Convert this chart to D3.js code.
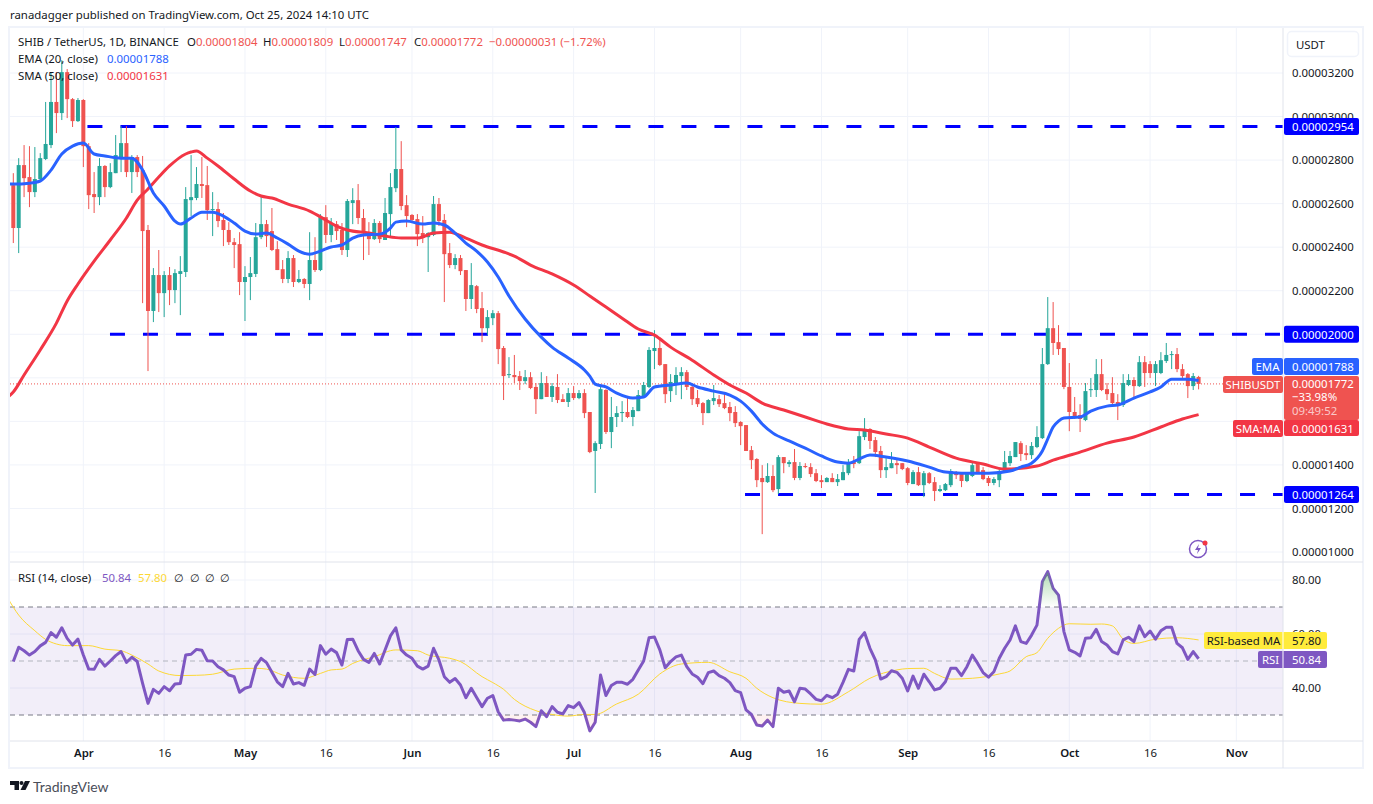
<!DOCTYPE html>
<html>
<head>
<meta charset="utf-8">
<style>
  html, body { margin: 0; background: #fff; }
  svg { display: block; }
  text { font-family: "Noto Sans", sans-serif; font-size: 11.4px; fill: #131722; }
</style>
<script src="https://cdn.jsdelivr.net/npm/d3@7"></script>
</head>
<body>
<div id="wrapper"></div>
<script>
// 1. Data, prices are in units of 0.00000001
const priceUnit = 1e-8;

const opens = [
  2685,2488,2777,2722,2653,2713,2805,2869,3067,3016,
  3204,3080,2979,3076,2864,2644,2630,2773,2676,2740,
  2814,2878,2745,2814,2754,2479,2107,2272,2189,2272,
  2203,2277,2286,2616,2626,2690,2685,2570,2575,2525,
  2479,2423,2414,2240,2263,2277,2446,2506,2474,2391,
  2299,2254,2350,2240,2254,2231,2341,2295,2538,2456,
  2506,2479,2387,2603,2616,2534,2465,2437,2511,2433,
  2552,2671,2759,2593,2548,2529,2465,2446,2456,2598,
  2525,2373,2318,2350,2295,2162,2221,2120,2028,2074,
  2097,1937,1813,1813,1808,1785,1803,1758,1702,1776,
  1712,1758,1702,1689,1730,1707,1730,1643,1464,1496,
  1744,1551,1620,1638,1643,1620,1647,1712,1758,1923,
  1937,1863,1739,1776,1808,1826,1758,1707,1684,1638,
  1693,1702,1684,1666,1643,1597,1583,1468,1427,1340,
  1321,1349,1289,1436,1404,1413,1340,1395,1390,1362,
  1330,1321,1340,1321,1330,1362,1413,1408,1528,1565,
  1514,1464,1376,1385,1408,1408,1385,1312,1367,1307,
  1362,1321,1280,1284,1307,1362,1358,1326,1349,1408,
  1376,1340,1317,1330,1367,1408,1436,1500,1454,1445,
  1482,1523,1863,2028,1964,1937,1758,1643,1629,1606,
  1744,1744,1817,1748,1730,1689,1675,1767,1790,1762,
  1872,1863,1822,1822,1877,1905,1909,1840,1817,1762,
  1804
];
const highs = [
  2740,2809,2869,2864,2860,2832,3067,3204,3204,3259,
  3218,3085,3085,3080,2878,2745,2809,2777,2786,2915,
  2956,2956,2823,2823,2819,2502,2304,2387,2290,2309,
  2299,2359,2676,2823,2768,2814,2773,2653,2607,2557,
  2515,2442,2469,2313,2355,2511,2635,2525,2580,2428,
  2341,2382,2364,2295,2258,2469,2446,2552,2593,2534,
  2520,2511,2621,2671,2690,2575,2515,2529,2520,2626,
  2740,2952,2887,2639,2552,2552,2543,2469,2635,2626,
  2552,2419,2368,2364,2295,2327,2226,2194,2111,2111,
  2107,1946,1895,1905,1831,1836,1826,1776,1826,1808,
  1776,1817,1725,1753,1762,1744,1748,1643,1509,1762,
  1748,1712,1670,1693,1707,1666,1744,1781,1941,2019,
  1987,1863,1817,1849,1849,1836,1776,1744,1689,1702,
  1767,1721,1735,1689,1670,1601,1583,1487,1431,1399,
  1408,1399,1445,1436,1422,1473,1413,1408,1408,1381,
  1353,1344,1362,1358,1399,1427,1441,1555,1615,1569,
  1528,1487,1431,1459,1431,1408,1390,1376,1390,1372,
  1367,1344,1307,1317,1381,1372,1362,1362,1418,1408,
  1390,1349,1344,1381,1464,1464,1505,1509,1491,1505,
  1578,1937,2171,2148,2042,1937,1868,1712,1679,1776,
  1799,1886,1886,1776,1803,1725,1817,1817,1803,1900,
  1900,1877,1877,1918,1960,1923,1937,1863,1822,1822,
  1809
];
const lows = [
  2419,2373,2630,2584,2630,2708,2800,2855,2924,2984,
  2993,2952,2975,2768,2575,2557,2593,2630,2671,2740,
  2745,2722,2649,2722,2143,1831,2056,2102,2079,2134,
  2143,2088,2263,2543,2616,2626,2525,2451,2492,2405,
  2410,2304,2180,2061,2157,2263,2437,2401,2382,2295,
  2235,2235,2217,2235,2212,2157,2286,2290,2419,2423,
  2433,2364,2355,2506,2506,2341,2364,2433,2419,2433,
  2446,2653,2570,2492,2515,2405,2419,2286,2451,2497,
  2148,2304,2299,2272,2107,2116,2097,1964,1996,2042,
  1863,1698,1799,1776,1744,1771,1748,1634,1702,1712,
  1689,1684,1689,1666,1698,1702,1615,1454,1271,1473,
  1542,1477,1574,1597,1615,1578,1647,1712,1753,1840,
  1854,1684,1689,1721,1702,1744,1675,1666,1583,1638,
  1675,1666,1656,1601,1574,1491,1464,1381,1298,1082,
  1317,1275,1266,1362,1390,1330,1330,1385,1344,1321,
  1294,1321,1321,1303,1330,1353,1385,1404,1514,1473,
  1436,1340,1340,1385,1358,1376,1307,1312,1303,1252,
  1312,1234,1275,1280,1298,1335,1298,1321,1344,1362,
  1330,1303,1307,1298,1367,1395,1436,1418,1422,1427,
  1477,1519,1859,1905,1905,1748,1555,1611,1551,1601,
  1712,1712,1739,1698,1670,1606,1666,1762,1712,1758,
  1758,1799,1762,1817,1868,1840,1826,1799,1707,1744,
  1747
];
const closes = [
  2488,2777,2717,2653,2713,2809,2874,3067,3016,3204,
  3080,2979,3076,2864,2639,2630,2773,2676,2745,2823,
  2878,2745,2814,2745,2474,2107,2272,2189,2272,2203,
  2281,2290,2621,2630,2690,2681,2570,2575,2520,2479,
  2423,2410,2240,2263,2281,2446,2506,2451,2387,2295,
  2254,2350,2240,2254,2231,2341,2295,2538,2456,2511,
  2474,2387,2612,2616,2534,2465,2437,2511,2437,2557,
  2676,2759,2589,2543,2525,2460,2442,2465,2598,2520,
  2368,2318,2350,2290,2162,2226,2116,2028,2079,2097,
  1932,1808,1817,1803,1785,1803,1753,1702,1776,1712,
  1762,1698,1689,1730,1707,1730,1638,1459,1500,1748,
  1551,1620,1638,1643,1620,1652,1721,1767,1928,1937,
  1859,1725,1781,1813,1826,1758,1702,1679,1638,1698,
  1707,1679,1661,1638,1592,1578,1464,1422,1330,1321,
  1349,1284,1436,1408,1413,1340,1395,1390,1358,1326,
  1321,1340,1321,1335,1367,1408,1404,1532,1565,1510,
  1459,1376,1390,1408,1399,1381,1317,1367,1307,1362,
  1317,1280,1289,1312,1372,1353,1326,1358,1399,1362,
  1335,1317,1335,1372,1413,1441,1505,1450,1445,1487,
  1528,1863,2028,1960,1932,1758,1643,1624,1611,1739,
  1748,1817,1744,1725,1684,1675,1776,1790,1762,1872,
  1822,1822,1863,1881,1905,1909,1840,1808,1762,1808,
  1772
];

// moving averages at the turning points
const emaDays = [-1,0,3,5,7,9,11,13,15,17,20,22,24,26,28,30,31,33,35,37,39,41,43,45,47,49,51,53,55,57,59,61,63,65,68,70,71,73,76,78,80,82,84,86,88,90,92,95,98,100,103,106,107,108,110,112,115,117,119,122,125,127,130,133,135,137,139,141,144,147,150,153,155,157,159,162,166,170,173,176,181,185,187,189,191,192,193,194,195,198,200,203,205,208,211,213,215,218,220];
const emaValues = [2690,2690,2694,2704,2754,2828,2864,2878,2828,2819,2809,2809,2754,2649,2589,2520,2506,2534,2561,2561,2543,2511,2474,2460,2465,2442,2414,2382,2368,2382,2401,2410,2442,2456,2460,2488,2515,2520,2506,2511,2502,2465,2419,2382,2332,2263,2176,2070,1987,1941,1891,1836,1808,1771,1758,1730,1707,1712,1758,1767,1776,1758,1739,1721,1693,1647,1588,1546,1510,1477,1441,1413,1408,1427,1445,1436,1418,1390,1367,1362,1362,1372,1390,1408,1464,1519,1574,1601,1615,1620,1647,1670,1675,1707,1735,1758,1794,1794,1788];

const smaDays = [-1,0,2,5,8,10,12,15,18,21,23,25,27,29,32,33,34,36,38,41,44,46,48,51,55,58,60,62,66,69,72,75,78,81,84,87,91,93,96,100,104,107,110,113,116,119,122,126,130,133,136,139,143,147,151,155,158,162,166,170,175,180,184,190,193,198,203,208,213,217,220];
const smaValues = [1712,1735,1813,1928,2051,2153,2231,2336,2433,2534,2616,2667,2722,2773,2828,2837,2842,2809,2773,2713,2658,2635,2626,2598,2566,2525,2497,2479,2465,2451,2442,2442,2465,2469,2442,2410,2378,2359,2318,2277,2226,2176,2125,2074,2024,1996,1941,1881,1813,1767,1730,1684,1652,1620,1588,1565,1560,1542,1523,1482,1431,1404,1381,1395,1422,1459,1500,1528,1574,1611,1631];

const rsiValues = [
  49.8,55.1,53.8,52.2,53.5,55.6,56.9,60.5,58.8,62.3,
  58.4,55.9,58.1,52.2,47.0,46.9,50.6,48.1,50.0,52.0,
  53.5,49.5,51.4,49.8,41.7,34.3,39.5,38.0,40.5,39.0,
  41.5,41.7,52.2,52.5,54.3,54.0,50.1,50.0,47.9,46.7,
  44.8,44.2,38.4,39.9,40.5,48.1,51.0,49.4,45.8,42.3,
  40.5,45.4,41.5,42.0,41.0,47.0,45.0,55.7,52.5,54.4,
  53.1,48.5,58.0,58.1,53.8,50.6,49.5,52.8,48.9,54.1,
  59.3,62.3,54.1,52.2,51.0,48.1,47.0,48.1,54.7,50.4,
  44.2,42.1,43.5,41.1,36.4,39.9,36.5,33.1,36.2,37.2,
  31.2,28.1,28.3,28.1,27.8,28.5,27.3,25.7,31.6,29.4,
  33.1,31.0,30.4,33.5,32.7,34.6,30.9,24.1,27.3,44.8,
  37.2,40.9,42.1,42.1,41.4,43.2,46.7,50.0,58.6,58.9,
  54.1,47.5,49.8,51.5,52.2,47.9,45.2,44.0,41.6,45.7,
  46.3,44.6,43.6,42.0,39.0,38.3,31.9,30.2,26.3,25.9,
  28.1,25.7,39.9,38.4,38.9,34.9,39.9,39.6,37.8,35.8,
  35.3,37.3,36.4,37.7,42.1,46.9,46.3,58.0,60.5,54.7,
  50.4,43.3,44.2,46.4,45.8,43.6,38.9,44.4,39.9,45.1,
  42.3,39.3,39.9,42.3,47.3,47.3,44.6,47.9,52.2,49.1,
  45.7,44.0,46.0,51.0,54.7,57.8,63.0,57.2,56.5,59.6,
  63.3,79.4,83.1,76.9,74.4,60.9,54.1,53.2,51.9,58.4,
  58.6,61.7,57.2,55.9,53.5,52.6,57.8,58.8,57.2,63.0,
  59.0,61.1,58.1,61.2,62.5,62.5,56.5,54.9,50.6,53.5,
  50.84
];
const rsiMaDays = [-1,1,4,6,8,10,14,17,20,22,25,27,31,34,37,41,45,47,50,54,57,59,61,63,67,71,75,77,81,83,87,89,91,93,97,100,103,106,108,112,116,120,124,129,133,136,138,141,146,150,155,159,164,166,169,171,174,178,183,185,188,190,192,194,196,200,202,204,206,208,212,216,220];
const rsiMaValues = [73.2,67,61.2,58,56.3,55.7,55.7,54.4,53.8,52.2,48.9,46.3,44.6,44.7,45.1,47,47.3,47,44.8,43.6,45.4,46.7,47,49.1,51.6,54.1,53.8,52.2,51,49.8,44.2,42,39.5,35.8,31.6,30.2,29.6,30.2,30.2,34.1,37.7,45.2,48.9,49.5,46,43.6,39.9,36.4,34.3,34,38.6,43.6,46.7,47.2,47.3,45.4,43.3,43.6,45.2,46.3,51.6,53.1,58.4,62.1,63.8,63.6,63.7,63,58.1,56.5,58.1,58.6,57.8];

// drawn horizontal levels
const levelPrices = [2954, 2000, 1264];
const levelStartDays = [14, 18, 136];

const gridPrices = [1000,1200,1400,1600,1800,2000,2200,2400,2600,2800,3000,3200];
// 1600, 1800 and 2000 sit fully behind the label boxes
const priceTicks = [1000,1200,1400,2200,2400,2600,2800,3000,3200];
const rsiTicks = [40, 60, 80];
const timeTickDays = [13,28,43,58,74,89,104,119,135,150,166,181,196,211,227];
const timeTickLabels = ["Apr","16","May","16","Jun","16","Jul","16","Aug","16","Sep","16","Oct","16","Nov"];

const lastOpen = 1804, lastHigh = 1809, lastLow = 1747, lastClose = 1772, lastEma = 1788, lastSma = 1631;
const lastRsi = 50.84, lastRsiMa = 57.80;

// 2. Dimensions
const dims = { width: 1373, height: 804, left: 10, right: 1283, outer: 1363, top: 28, split: 562, bottom: 741, foot: 768 };
const colors = {
  up: "#26a69a", down: "#ef5350", ema: "#2962ff", sma: "#f23645", level: "#0000ff",
  rsi: "#7e57c2", rsiMa: "#fdd835", grid: "#f0f3fa", border: "#e0e3eb", text: "#131722"
};

const priceText = (v) => (v * priceUnit).toFixed(8);

// 3. Canvas
const svg = d3.select("#wrapper").append("svg").attr("width", dims.width).attr("height", dims.height);
const defs = svg.append("defs");

defs.append("clipPath").attr("id", "mainClip").append("rect")
  .attr("x", dims.left).attr("y", dims.top).attr("width", dims.right - dims.left).attr("height", dims.split - dims.top);
defs.append("clipPath").attr("id", "rsiClip").append("rect")
  .attr("x", dims.left).attr("y", dims.split).attr("width", dims.right - dims.left).attr("height", dims.bottom - dims.split);

// 4. Scales
const xScale = d3.scaleLinear().domain([0, 220]).range([13.3, 1198.6]);
const yPrice = d3.scaleLinear().domain([1000, 3200]).range([552, 73]);
const yRsi = d3.scaleLinear().domain([30, 70]).range([715, 607]);

// 5. Grid
const grid = svg.append("g").attr("stroke", colors.grid).attr("stroke-width", 1);
grid.selectAll(".vgrid").data(timeTickDays).join("line")
  .attr("x1", (d) => xScale(d)).attr("x2", (d) => xScale(d))
  .attr("y1", dims.top).attr("y2", dims.bottom);
grid.selectAll(".hgrid").data(gridPrices).join("line")
  .attr("x1", dims.left).attr("x2", dims.right)
  .attr("y1", (d) => yPrice(d)).attr("y2", (d) => yPrice(d));
grid.selectAll(".rgrid").data(rsiTicks).join("line")
  .attr("x1", dims.left).attr("x2", dims.right)
  .attr("y1", (d) => yRsi(d)).attr("y2", (d) => yRsi(d));

// 6. Price pane
const main = svg.append("g").attr("clip-path", "url(#mainClip)");

main.append("line")
  .attr("x1", dims.left).attr("x2", dims.right)
  .attr("y1", yPrice(lastClose)).attr("y2", yPrice(lastClose))
  .attr("stroke", colors.down).attr("stroke-dasharray", "1 2");

main.selectAll(".level").data(levelPrices).join("line")
  .attr("class", "level")
  .attr("x1", (d, i) => xScale(levelStartDays[i]) - (i == 0 ? 1.3 : i == 1 ? 0.3 : 1))
  .attr("x2", dims.right)
  .attr("y1", (d) => yPrice(d)).attr("y2", (d) => yPrice(d))
  .attr("stroke", colors.level).attr("stroke-width", 3).attr("stroke-dasharray", "15 18");

const candles = main.selectAll(".candle").data(closes).join("g").attr("class", "candle")
  .attr("fill", (d, i) => (d >= opens[i] ? colors.up : colors.down));
candles.append("rect")
  .attr("x", (d, i) => xScale(i) - 0.5).attr("width", 1)
  .attr("y", (d, i) => yPrice(highs[i]))
  .attr("height", (d, i) => yPrice(lows[i]) - yPrice(highs[i]));
candles.append("rect")
  .attr("x", (d, i) => xScale(i) - 2).attr("width", 4)
  .attr("y", (d, i) => yPrice(Math.max(opens[i], d)))
  .attr("height", (d, i) => Math.max(1, Math.abs(yPrice(opens[i]) - yPrice(d))));

const priceLine = (days) => d3.line().x((d, i) => xScale(days[i])).y((d) => yPrice(d)).curve(d3.curveMonotoneX);
main.append("path").attr("d", priceLine(smaDays)(smaValues))
  .attr("fill", "none").attr("stroke", colors.sma).attr("stroke-width", 3).attr("stroke-linejoin", "round");
main.append("path").attr("d", priceLine(emaDays)(emaValues))
  .attr("fill", "none").attr("stroke", colors.ema).attr("stroke-width", 3).attr("stroke-linejoin", "round");

// 7. RSI pane
const rsiPane = svg.append("g").attr("clip-path", "url(#rsiClip)");
rsiPane.append("rect")
  .attr("x", dims.left).attr("width", dims.right - dims.left)
  .attr("y", yRsi(70)).attr("height", yRsi(30) - yRsi(70))
  .attr("fill", colors.rsi).attr("fill-opacity", 0.1);

[[70, "#787b86"], [50, "#b2b5be"], [30, "#787b86"]].forEach(([v, c]) => {
  rsiPane.append("line")
    .attr("x1", dims.left).attr("x2", dims.right)
    .attr("y1", yRsi(v)).attr("y2", yRsi(v))
    .attr("stroke", c).attr("stroke-dasharray", "5 4");
});

const obGradient = defs.append("linearGradient").attr("id", "obFill")
  .attr("gradientUnits", "userSpaceOnUse").attr("x1", 0).attr("x2", 0)
  .attr("y1", yRsi(85)).attr("y2", yRsi(70));
obGradient.append("stop").attr("offset", 0).attr("stop-color", "#4caf50").attr("stop-opacity", 0.5);
obGradient.append("stop").attr("offset", 1).attr("stop-color", "#4caf50").attr("stop-opacity", 0);
defs.append("clipPath").attr("id", "obClip").append("rect")
  .attr("x", dims.left).attr("y", dims.split).attr("width", dims.right - dims.left).attr("height", yRsi(70) - dims.split);
defs.append("clipPath").attr("id", "osClip").append("rect")
  .attr("x", dims.left).attr("y", yRsi(30)).attr("width", dims.right - dims.left).attr("height", dims.bottom - yRsi(30));

const rsiAt = (i) => xScale(i);
svg.append("path").attr("clip-path", "url(#obClip)")
  .attr("d", d3.area().x((d, i) => rsiAt(i)).y0(yRsi(70)).y1((d) => yRsi(d))(rsiValues))
  .attr("fill", "url(#obFill)");
svg.append("path").attr("clip-path", "url(#osClip)")
  .attr("d", d3.area().x((d, i) => rsiAt(i)).y0(yRsi(30)).y1((d) => yRsi(d))(rsiValues))
  .attr("fill", colors.down).attr("fill-opacity", 0.08);

rsiPane.append("path")
  .attr("d", d3.line().x((d, i) => xScale(rsiMaDays[i])).y((d) => yRsi(d)).curve(d3.curveMonotoneX)(rsiMaValues))
  .attr("fill", "none").attr("stroke", colors.rsiMa).attr("stroke-width", 1);
rsiPane.append("path")
  .attr("d", d3.line().x((d, i) => xScale(i)).y((d) => yRsi(d))(rsiValues))
  .attr("fill", "none").attr("stroke", colors.rsi).attr("stroke-width", 3).attr("stroke-linejoin", "round");

// 8. Frame
const frame = svg.append("g").attr("fill", "none");
frame.append("rect")
  .attr("x", dims.left - 1).attr("y", dims.top - 1)
  .attr("width", dims.outer - dims.left + 1).attr("height", dims.foot - dims.top + 1)
  .attr("stroke", colors.grid).attr("stroke-width", 2);
[[dims.right, dims.top, dims.right, dims.foot], [dims.left, dims.split, dims.outer, dims.split], [dims.left, dims.bottom, dims.outer, dims.bottom]]
  .forEach(([x1, y1, x2, y2]) => {
    frame.append("line").attr("x1", x1).attr("y1", y1).attr("x2", x2).attr("y2", y2).attr("stroke", colors.border);
  });

// 9. Axes
const priceAxis = svg.append("g").attr("transform", `translate(${dims.right},0)`)
  .call(d3.axisRight(yPrice).tickValues(priceTicks).tickFormat(priceText).tickSize(0).tickPadding(9));
const rsiAxis = svg.append("g").attr("transform", `translate(${dims.right},0)`)
  .call(d3.axisRight(yRsi).tickValues(rsiTicks).tickFormat((d) => d.toFixed(2)).tickSize(0).tickPadding(9));
const timeAxis = svg.append("g").attr("transform", `translate(0,${dims.bottom})`)
  .call(d3.axisBottom(xScale).tickValues(timeTickDays).tickFormat((d, i) => timeTickLabels[i]).tickSize(0).tickPadding(8));
[priceAxis, rsiAxis, timeAxis].forEach((a) => {
  a.select(".domain").remove();
  a.attr("font-family", null).attr("font-size", null);
});
timeAxis.selectAll("text").style("font-weight", (d, i) => (timeTickLabels[i] == "16" ? 400 : 600));

// 10. Label boxes on the price scale
function axisLabel(y, h, text, fill, textFill) {
  svg.append("rect").attr("x", dims.right + 1).attr("y", y).attr("width", 75).attr("height", h).attr("rx", 2).attr("fill", fill);
  svg.append("text").attr("x", dims.right + 9).attr("y", y + 13).style("fill", textFill).text(text);
}
function sideLabel(x, y, text, fill, textFill) {
  svg.append("rect").attr("x", x).attr("y", y).attr("width", dims.right - x).attr("height", 17).attr("rx", 2).attr("fill", fill);
  svg.append("text").attr("x", (x + dims.right) / 2).attr("y", y + 13).attr("text-anchor", "middle").style("fill", textFill).text(text);
}
levelPrices.forEach((p) => axisLabel(yPrice(p) - 8.5, 17, priceText(p), colors.level, "#fff"));

axisLabel(358, 17, priceText(lastEma), colors.ema, "#fff");
sideLabel(1252, 358, "EMA", colors.ema, "#fff");

svg.append("rect").attr("x", dims.right + 1).attr("y", 376).attr("width", 75).attr("height", 44).attr("rx", 2).attr("fill", colors.down);
svg.append("text").attr("x", dims.right + 9).attr("y", 388).style("fill", "#fff").text(priceText(lastClose));
svg.append("text").attr("x", dims.right + 9).attr("y", 401).style("fill", "#fff").text("\u221233.98%");
svg.append("text").attr("x", dims.right + 9).attr("y", 415).style("fill", "#fff").style("fill-opacity", 0.7).text("09:49:52");
sideLabel(1223, 376, "SHIBUSDT", colors.down, "#fff");

axisLabel(420, 16, priceText(lastSma), colors.sma, "#fff");
sideLabel(1233, 420, "SMA:MA", colors.sma, "#fff");

function rsiLabel(x, y, name, value, fill, textFill) {
  svg.append("rect").attr("x", x).attr("y", y).attr("width", 1327 - x).attr("height", 17).attr("rx", 2).attr("fill", fill);
  svg.append("line").attr("x1", dims.right).attr("x2", dims.right).attr("y1", y).attr("y2", y + 17).attr("stroke", "#fff");
  svg.append("text").attr("x", (x + dims.right) / 2).attr("y", y + 13).attr("text-anchor", "middle").style("fill", textFill).text(name);
  svg.append("text").attr("x", dims.right + 9).attr("y", y + 13).style("fill", textFill).text(value.toFixed(2));
}
rsiLabel(1204, 632, "RSI-based MA", lastRsiMa, "#ffeb3b", colors.text);
rsiLabel(1258, 651, "RSI", lastRsi, colors.rsi, "#fff");

// USDT button
svg.append("rect").attr("x", 1287.5).attr("y", 31.5).attr("width", 71).attr("height", 25).attr("rx", 4)
  .attr("fill", "#fff").attr("stroke", colors.grid).attr("stroke-width", 1.5);
svg.append("text").attr("x", 1296).attr("y", 49).text("USDT");

// 11. Header texts
svg.append("text").attr("x", 10).attr("y", 19).text("ranadagger published on TradingView.com, Oct 25, 2024 14:10 UTC");
svg.append("text").attr("x", 18).attr("y", 46).text("SHIB / TetherUS, 1D, BINANCE");
const ohlcNames = ["O", "H", "L", "C"];
const ohlcValues = [lastOpen, lastHigh, lastLow, lastClose];
const ohlcStarts = [187, 263, 339, 414];
ohlcNames.forEach((n, i) => {
  const t = svg.append("text").attr("x", ohlcStarts[i]).attr("y", 46);
  t.append("tspan").text(n);
  t.append("tspan").style("fill", colors.down).text(priceText(ohlcValues[i]));
});
svg.append("text").attr("x", 489).attr("y", 46).style("fill", colors.down).text("\u22120.00000031 (\u22121.72%)");

svg.append("text").attr("x", 18).attr("y", 63).text("EMA (20, close)");
svg.append("text").attr("x", 107).attr("y", 63).style("fill", colors.ema).text(priceText(lastEma));
svg.append("text").attr("x", 18).attr("y", 80).text("SMA (50, close)");
svg.append("text").attr("x", 107).attr("y", 80).style("fill", colors.sma).text(priceText(lastSma));

svg.append("text").attr("x", 18).attr("y", 582).text("RSI (14, close)");
svg.append("text").attr("x", 102).attr("y", 582).style("fill", colors.rsi).text(lastRsi.toFixed(2));
svg.append("text").attr("x", 138).attr("y", 582).style("fill", colors.rsiMa).text(lastRsiMa.toFixed(2));
[174, 190, 205, 220].forEach((x) => svg.append("text").attr("x", x).attr("y", 582).text("\u2205"));

// 12. Small icon and logo
const bolt = svg.append("g").attr("transform", "translate(1198,549)");
bolt.append("circle").attr("r", 8.5).attr("fill", "#fff").attr("stroke", colors.rsi).attr("stroke-width", 1.5);
bolt.append("path").attr("d", "M1,-5 L-3,1 L0,1 L-1,5 L3,-1 L0,-1 Z").attr("fill", colors.rsi);
bolt.append("circle").attr("cx", 7).attr("cy", -6).attr("r", 2.5).attr("fill", colors.sma);

const logo = svg.append("g").attr("transform", "translate(10,781)").attr("fill", "#131722");
logo.append("path").attr("d", "M0,0 H9 V9 H4.5 V4 H0 Z");
logo.append("circle").attr("cx", 11.5).attr("cy", 2).attr("r", 2);
logo.append("path").attr("d", "M15,0 H20 L15.5,9 H10.5 Z");
svg.append("text").attr("x", 33).attr("y", 791.5).style("font-family", "Lato").style("font-size", "14px").style("fill", "#4a4e59").text("TradingView");
</script>
</body>
</html>
